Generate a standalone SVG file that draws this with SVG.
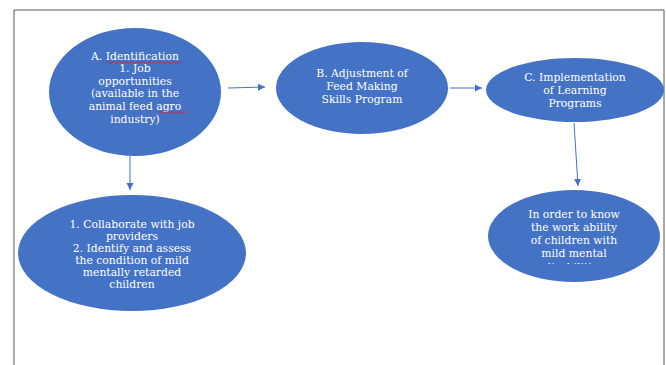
<svg xmlns="http://www.w3.org/2000/svg" width="666" height="365" viewBox="0 0 666 365">
<defs>
<style>
.node{fill:#4472c4;}
.t{font-family:"DejaVu Serif","Liberation Serif",serif;font-size:10.8px;fill:#ffffff;text-anchor:middle;}
.c{stroke:#4472c4;stroke-width:1;fill:none;marker-end:url(#ah);}
.sq{stroke:#e02020;stroke-width:0.8;fill:none;}
</style>
<marker id="ah" markerWidth="8" markerHeight="8" refX="7" refY="4" orient="auto" markerUnits="userSpaceOnUse">
<path d="M0,0.5 L7,4 L0,7.5 Z" fill="#4472c4"/>
</marker>
<clipPath id="clipE"><rect x="480" y="180" width="186" height="84"/></clipPath>
</defs>
<rect x="0" y="0" width="666" height="365" fill="#ffffff"/>
<path d="M14,365 V10 H664 V365" fill="none" stroke="#555555" stroke-width="1"/>
<g id="connectors">
<line class="c" x1="228" y1="88" x2="265" y2="87"/>
<line class="c" x1="450" y1="88" x2="482" y2="88"/>
<line class="c" x1="130" y1="156" x2="130" y2="190"/>
<line class="c" x1="574" y1="123" x2="578" y2="186"/>
</g>
<g id="nodeA">
<ellipse class="node" cx="135" cy="92" rx="86" ry="64"/>
<text class="t" x="135" y="60">A. Identification</text>
<text class="t" x="135" y="72">1. Job</text>
<text class="t" x="135" y="85">opportunities</text>
<text class="t" x="135" y="97">(available in the</text>
<text class="t" x="135" y="110">animal feed agro</text>
<text class="t" x="135" y="123">industry)</text>
<path class="sq" d="M106,62.5 q1.5,-1.5 3,0 t3,0 t3,0 t3,0 t3,0 t3,0 t3,0 t3,0 t3,0 t3,0 t3,0 t3,0 t3,0 t3,0 t3,0 t3,0 t3,0 t3,0 t3,0 t3,0 t3,0 t3,0 t3,0 t3,0 t3,0"/>
<path class="sq" d="M159,112.5 q1.5,-1.5 3,0 t3,0 t3,0 t3,0 t3,0 t3,0 t3,0 t3,0 t3,0"/>
</g>
<g id="nodeB">
<ellipse class="node" cx="362" cy="88" rx="86" ry="46"/>
<text class="t" x="362" y="77">B. Adjustment of</text>
<text class="t" x="362" y="90">Feed Making</text>
<text class="t" x="362" y="103">Skills Program</text>
</g>
<g id="nodeC">
<ellipse class="node" cx="575" cy="90" rx="89" ry="32"/>
<text class="t" x="575" y="81">C. Implementation</text>
<text class="t" x="575" y="94">of Learning</text>
<text class="t" x="575" y="107">Programs</text>
</g>
<g id="nodeD">
<ellipse class="node" cx="132" cy="253" rx="114" ry="58"/>
<text class="t" x="132" y="228">1. Collaborate with job</text>
<text class="t" x="132" y="240">providers</text>
<text class="t" x="132" y="252">2.  Identify and assess</text>
<text class="t" x="132" y="264">the condition of mild</text>
<text class="t" x="132" y="276">mentally retarded</text>
<text class="t" x="132" y="288">children</text>
</g>
<g id="nodeE">
<ellipse class="node" cx="574" cy="236" rx="86" ry="46"/>
<g clip-path="url(#clipE)">
<text class="t" x="574" y="218">In order to know</text>
<text class="t" x="574" y="231">the work ability</text>
<text class="t" x="574" y="244">of children with</text>
<text class="t" x="574" y="257">mild mental</text>
<text class="t" x="574" y="271">disabilities</text>
</g>
</g>
</svg>
